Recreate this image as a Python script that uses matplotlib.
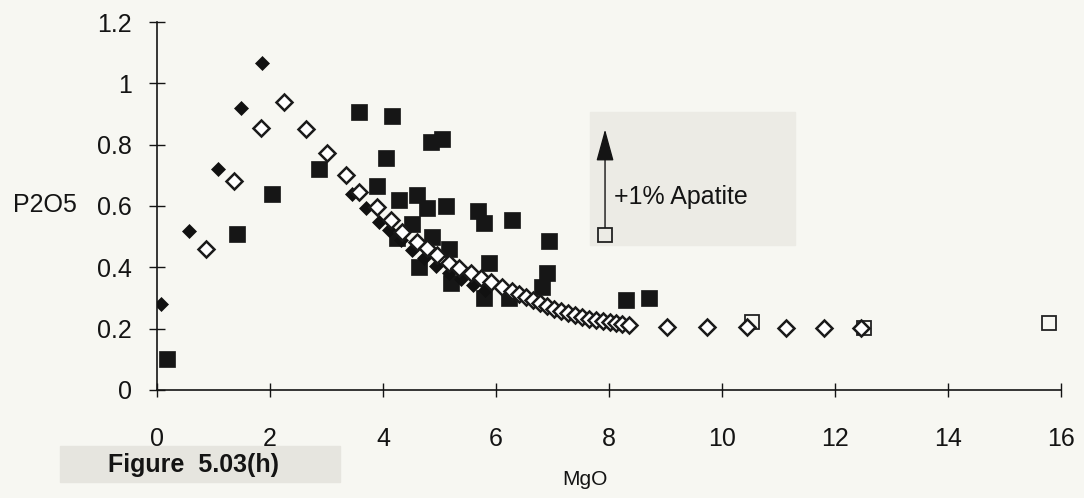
# MgO vs P2O5 variation diagram (fig 5.03h) - samples, two model curves,
# plus the +1% apatite vector.

import matplotlib
matplotlib.use('Agg')
import matplotlib.pyplot as plt
from matplotlib.patches import Rectangle

# filled squares - analysed samples
sample_mgo = [0.18, 1.42, 2.04, 2.87, 3.58, 4.16, 4.85, 5.04, 4.05, 3.89,
              4.28, 4.60, 4.78, 5.12, 5.68, 5.79, 6.28, 6.94, 4.51, 4.87,
              5.17, 4.25, 4.64, 5.20, 5.88, 5.79, 6.23, 6.90, 6.81, 8.30,
              8.71]
sample_p2o5 = [0.10, 0.51, 0.64, 0.72, 0.905, 0.895, 0.81, 0.82, 0.755, 0.665,
               0.62, 0.635, 0.595, 0.60, 0.585, 0.545, 0.555, 0.485, 0.54, 0.50,
               0.46, 0.495, 0.40, 0.35, 0.415, 0.30, 0.30, 0.38, 0.335, 0.295,
               0.30]

# filled diamonds - model 1
model1_mgo = [0.07, 0.57, 1.08, 1.49, 1.86, 3.45, 3.70, 3.93, 4.11, 4.32,
              4.51, 4.73, 4.94, 5.17, 5.38, 5.59, 5.80]
model1_p2o5 = [0.28, 0.52, 0.72, 0.92, 1.065, 0.64, 0.593, 0.548, 0.522, 0.489,
               0.456, 0.430, 0.404, 0.381, 0.362, 0.342, 0.326]

# open diamonds - model 2
model2_mgo = [0.87, 1.36, 1.84, 2.25, 2.64, 3.01, 3.35, 3.58, 3.89, 4.14,
              4.34, 4.60, 4.78, 4.96, 5.17, 5.35, 5.56, 5.73, 5.91, 6.11,
              6.28, 6.41, 6.53, 6.65, 6.78, 6.90, 7.03, 7.15, 7.27, 7.40,
              7.52, 7.65, 7.77, 7.89, 8.02, 8.12, 8.23, 8.35, 9.03, 9.73,
              10.44, 11.13, 11.80, 12.46]
model2_p2o5 = [0.46, 0.68, 0.855, 0.94, 0.85, 0.773, 0.70, 0.646, 0.597, 0.554,
               0.515, 0.483, 0.463, 0.440, 0.414, 0.398, 0.381, 0.365, 0.352, 0.336,
               0.323, 0.313, 0.303, 0.293, 0.284, 0.274, 0.264, 0.258, 0.251, 0.245,
               0.238, 0.232, 0.228, 0.225, 0.222, 0.218, 0.215, 0.212, 0.205, 0.205,
               0.205, 0.203, 0.203, 0.202]

# open squares
other_mgo = [7.93, 10.53, 12.51, 15.79]
other_p2o5 = [0.505, 0.222, 0.202, 0.218]

# apatite vector: start / end in P2O5 at MgO = 7.93
apatite_mgo = 7.93
apatite_from, apatite_to = 0.53, 0.85

x_ticks = [0, 2, 4, 6, 8, 10, 12, 14, 16]
y_ticks = [0, 0.2, 0.4, 0.6, 0.8, 1, 1.2]
y_ticklabels = ['0', '0.2', '0.4', '0.6', '0.8', '1', '1.2']

bg = '#f7f7f2'
ink = '#141414'
plt.rcParams['font.family'] = ['Liberation Sans', 'DejaVu Sans']


def main():
    fig = plt.figure(figsize=(10.84, 4.98), dpi=100, facecolor=bg)
    ax = fig.add_axes([0.1448, 0.2169, 0.834, 0.7389])
    ax.set_facecolor('none')
    ax.set_zorder(2)

    # faint grey patches from the scan, kept behind the axes
    fig.patches.append(Rectangle((590 / 1084, 1 - 245 / 498), 205 / 1084, 133 / 498,
                                 transform=fig.transFigure, color='#ecebe5', zorder=-1))
    fig.patches.append(Rectangle((60 / 1084, 1 - 482 / 498), 280 / 1084, 36 / 498,
                                 transform=fig.transFigure, color='#e6e5df', zorder=-1))

    ax.plot(sample_mgo, sample_p2o5, 's', ms=11.5, mfc='#161616', mec='#161616',
            mew=0.5, zorder=3)
    ax.plot(other_mgo, other_p2o5, 's', ms=10, mfc='none', mec='#222222',
            mew=1.3, zorder=3)
    ax.plot(model1_mgo, model1_p2o5, 'D', ms=7.5, mfc='#111111', mec='#111111',
            mew=0.5, zorder=4)
    ax.plot(model2_mgo, model2_p2o5, 'D', ms=8.3, mfc='white', mec='#1a1a1a',
            mew=1.8, zorder=5)

    ax.annotate('', xy=(apatite_mgo, apatite_to), xytext=(apatite_mgo, apatite_from),
                arrowprops=dict(arrowstyle='-|>,head_length=2.0,head_width=0.55',
                                color=ink, lw=1.0, shrinkA=0, shrinkB=0),
                zorder=6)
    ax.text(8.09, 0.63, '+1% Apatite', fontsize=18, va='center', ha='left',
            color=ink)

    ax.set_xlim(0, 16)
    ax.set_ylim(0, 1.2)
    ax.set_xticks(x_ticks)
    ax.set_xticklabels([str(t) for t in x_ticks])
    ax.set_yticks(y_ticks)
    ax.set_yticklabels(y_ticklabels)
    ax.tick_params(axis='x', direction='inout', length=10, width=1, pad=22,
                   labelsize=18, colors=ink)
    ax.tick_params(axis='y', direction='inout', length=12, width=1, pad=12,
                   labelsize=18, colors=ink)
    for s in ('top', 'right'):
        ax.spines[s].set_visible(False)
    for s in ('left', 'bottom'):
        ax.spines[s].set_linewidth(1.2)
        ax.spines[s].set_color(ink)

    fig.text(13 / 1084, 1 - 205 / 498, 'P2O5', fontsize=18, ha='left',
             va='center', color=ink)
    fig.text(585 / 1084, 1 - 479 / 498, 'MgO', fontsize=15, ha='center',
             va='center', color=ink)
    fig.text(108 / 1084, 1 - 465 / 498, 'Figure  5.03(h)', fontsize=18,
             fontweight='bold', ha='left', va='center', color=ink)

    fig.savefig('out.png', dpi=100, facecolor=bg)


if __name__ == '__main__':
    main()
